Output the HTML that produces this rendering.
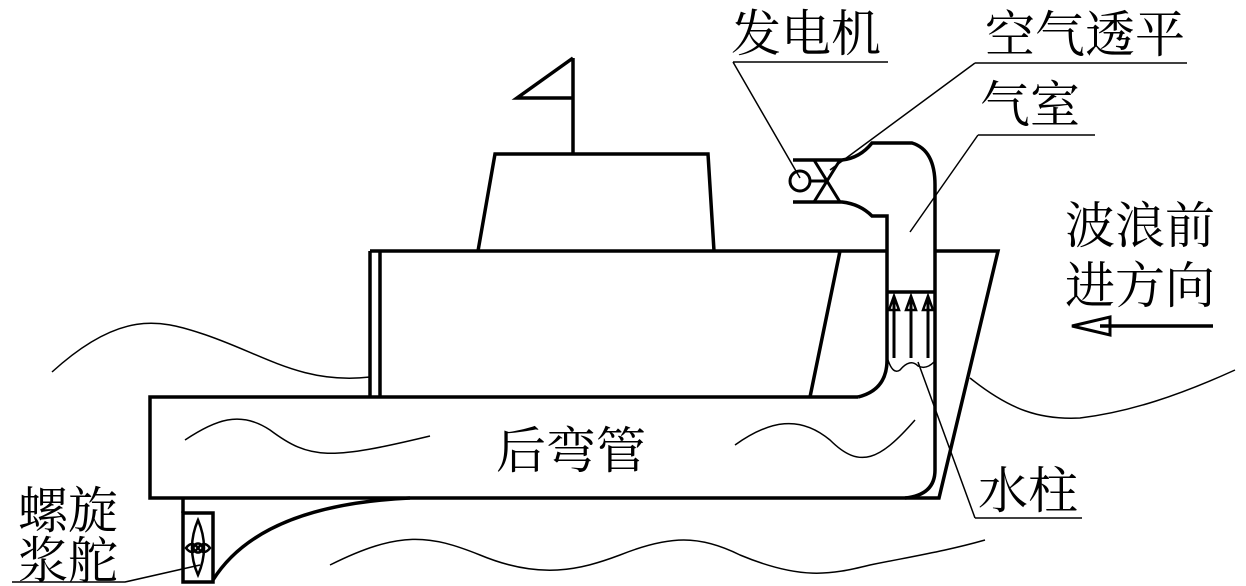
<!DOCTYPE html>
<html><head><meta charset="utf-8"><style>
html,body{margin:0;padding:0;background:#fff;}
svg{display:block;}
text{font-family:"Liberation Serif","Noto Serif CJK SC","Noto Sans CJK SC",serif;font-size:50px;fill:#000;}
</style></head><body>
<svg width="1246" height="586" viewBox="0 0 1246 586" xmlns="http://www.w3.org/2000/svg">
<g fill="none" stroke="#000" stroke-width="3.5" stroke-linejoin="miter">
<path d="M573 58 L517 98 L573 98 M573 58 L573 154"/>
<path d="M478 251 L495 154 L708 154 L714 251"/>
<path d="M370 251 L887 251 M370 251 L370 397 M380 251 L380 397 M840 251 L810 397"/>
<path d="M935 251 L998 251 L939 498 L905 498"/>
<path d="M858 397 L150 397 L150 498 L905 498"/>
<path d="M858 397 Q887 390 887 360 L887 216 L872 216 Q860 204 842 202 L793 202"/>
<path d="M793 160 L842 160 Q860 158 872 143 L912 143 Q935 150 935 185 L935 470 Q935 495 905 498"/>
<path d="M887 292 L935 292"/>
<path d="M814 160 L840 160 L814 202 L840 202 Z" stroke-width="3"/>
<circle cx="800" cy="181" r="10" stroke-width="3"/>
<path d="M810 181 L827 181" stroke-width="3"/>
<path d="M894 358 L894 300 M911 358 L911 300 M928 358 L928 300" stroke-width="3"/>
<path d="M889 310 L894 296 L899 310 Z M906 310 L911 296 L916 310 Z M923 310 L928 296 L933 310 Z" stroke-width="2.5"/>
<path d="M183 498 L183 513"/>
<rect x="183" y="513" width="30" height="69"/>
<path d="M213 580 Q260 505 410 498" stroke-width="3.5"/>
<path d="M1213 326 L1100 326" stroke-width="3.5"/>
<path d="M1072 326 L1110 317 L1110 335 Z" stroke-width="3"/>
</g>
<g fill="none" stroke="#000" stroke-width="1.5">
<path d="M198 520 Q186 548 198 575 Q210 548 198 520 Z" stroke-width="2.5"/>
<circle cx="198" cy="548" r="4.5" stroke-width="2.5"/>
<path d="M186 548 Q192 540 198 548 Q204 556 210 548 Q204 540 198 548 Q192 556 186 548 Z" stroke-width="2.5"/>
<path d="M888 360 Q893 375 900 370 Q910 358 918 366 Q926 370 934 362"/>
<path d="M52 372 C120 310 160 320 200 333 C260 352 300 385 370 377"/>
<path d="M185 440 C215 420 240 410 270 430 C310 460 330 460 430 436"/>
<path d="M735 445 C770 420 800 415 830 440 C860 470 880 460 915 420"/>
<path d="M970 378 C1010 410 1040 420 1080 418 C1130 412 1180 395 1235 370"/>
<path d="M330 565 C400 530 430 535 480 555 C540 580 580 570 620 555 C670 535 700 535 740 555 C800 580 830 575 870 565 C920 555 950 550 985 540"/>
<path d="M733 62 L888 62 M733 62 L800 178"/>
<path d="M975 63 L1187 63 M975 63 L830 170"/>
<path d="M978 135 L1095 135 M978 135 L910 232"/>
<path d="M975 518 L1082 518 M975 518 L918 362"/>
<path d="M12 582 L125 582 L200 565"/>
</g>
<text x="731" y="51">发电机</text>
<text x="985" y="52">空气透平</text>
<text x="980" y="122">气室</text>
<text x="1065" y="243">波浪前</text>
<text x="1065" y="303">进方向</text>
<text x="978" y="508">水柱</text>
<text x="496" y="468">后弯管</text>
<text x="18" y="528">螺旋</text>
<text x="18" y="578">浆舵</text>
</svg>
</body></html>
